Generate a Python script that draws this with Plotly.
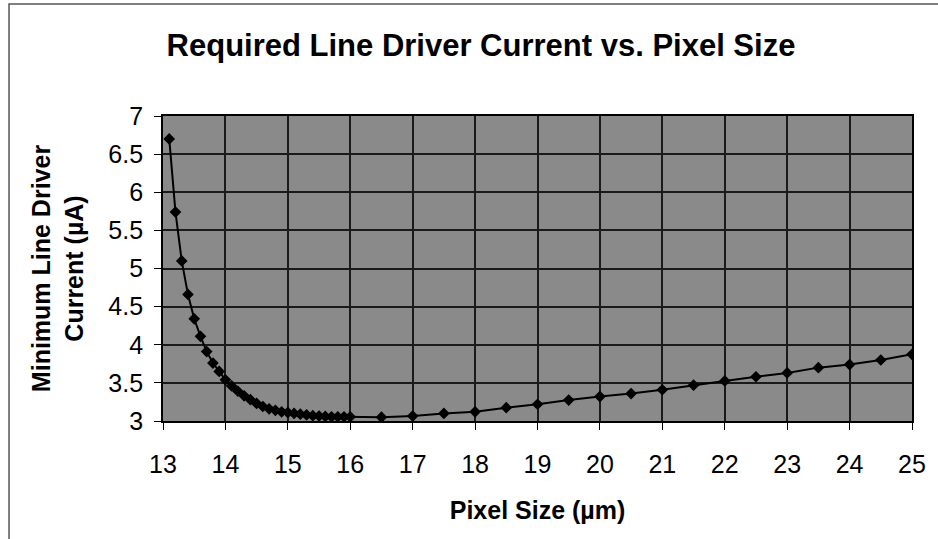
import plotly.graph_objects as go

# Data
pixel_size_um = [13.1, 13.2, 13.3, 13.4, 13.5, 13.6, 13.7, 13.8, 13.9, 14.0,
                 14.1, 14.2, 14.3, 14.4, 14.5, 14.6, 14.7, 14.8, 14.9, 15.0,
                 15.1, 15.2, 15.3, 15.4, 15.5, 15.6, 15.7, 15.8, 15.9, 16.0,
                 16.5, 17.0, 17.5, 18.0, 18.5, 19.0, 19.5, 20.0, 20.5, 21.0,
                 21.5, 22.0, 22.5, 23.0, 23.5, 24.0, 24.5, 25.0]
min_current_uA = [6.70, 5.74, 5.10, 4.66, 4.34, 4.11, 3.91, 3.76, 3.65, 3.54,
                  3.46, 3.39, 3.33, 3.28, 3.23, 3.19, 3.16, 3.14, 3.12, 3.11,
                  3.10, 3.09, 3.08, 3.07, 3.065, 3.06, 3.055, 3.055, 3.055, 3.055,
                  3.05, 3.065, 3.10, 3.12, 3.175, 3.22, 3.275, 3.32, 3.36, 3.41,
                  3.47, 3.525, 3.58, 3.63, 3.70, 3.74, 3.80, 3.875]

x_ticks = list(range(13, 26))
y_ticks = [3, 3.5, 4, 4.5, 5, 5.5, 6, 6.5, 7]

FONT = "Liberation Sans, Arial, sans-serif"

fig = go.Figure()
fig.add_trace(go.Scatter(
    x=pixel_size_um, y=min_current_uA,
    mode="lines+markers",
    line=dict(color="black", width=2),
    marker=dict(symbol="diamond", size=9, color="black"),
    showlegend=False,
))

fig.update_layout(
    width=938, height=539,
    margin=dict(l=163, r=21, t=116, b=118),
    paper_bgcolor="white",
    plot_bgcolor="#8a8a8a",
    font=dict(family=FONT, color="black"),
    title=dict(
        text="<b>Required Line Driver Current vs. Pixel Size</b>",
        font=dict(size=31, family=FONT, color="black"),
        x=481 / 938, xanchor="center",
        y=1 - 45 / 539, yanchor="middle",
    ),
    xaxis=dict(
        range=[13, 25], tickvals=x_ticks, ticktext=[str(v) for v in x_ticks],
        showgrid=True, gridcolor="#1a1a1a", gridwidth=1.8,
        showline=True, linecolor="black", linewidth=1.8, mirror=True,
        ticks="outside", ticklen=7, tickcolor="black", tickwidth=1,
        tickfont=dict(size=25, family=FONT, color="black"),
        ticklabelstandoff=13,
        zeroline=False,
        title=dict(text="<b>Pixel Size (µm)</b>",
                   font=dict(size=25, family=FONT, color="black"),
                   standoff=25),
    ),
    yaxis=dict(
        range=[3, 7], tickvals=y_ticks, ticktext=[f"{v:g}" for v in y_ticks],
        showgrid=True, gridcolor="#1a1a1a", gridwidth=1.8,
        showline=True, linecolor="black", linewidth=1.8, mirror=True,
        ticks="outside", ticklen=7, tickcolor="black", tickwidth=1,
        tickfont=dict(size=25, family=FONT, color="black"),
        ticklabelstandoff=6,
        zeroline=False,
        title=dict(text="<b>Minimum Line Driver<br>Current (µA)</b>",
                   font=dict(size=25, family=FONT, color="black"),
                   standoff=18),
    ),
    shapes=[dict(
        type="rect", xref="paper", yref="paper",
        x0=(8 - 163) / 754, x1=1.5, y0=-1.0, y1=(421 - 4) / 305,
        line=dict(color="#555555", width=1.5), fillcolor="rgba(0,0,0,0)",
        layer="below",
    )],
)

fig.write_html("out.html")
